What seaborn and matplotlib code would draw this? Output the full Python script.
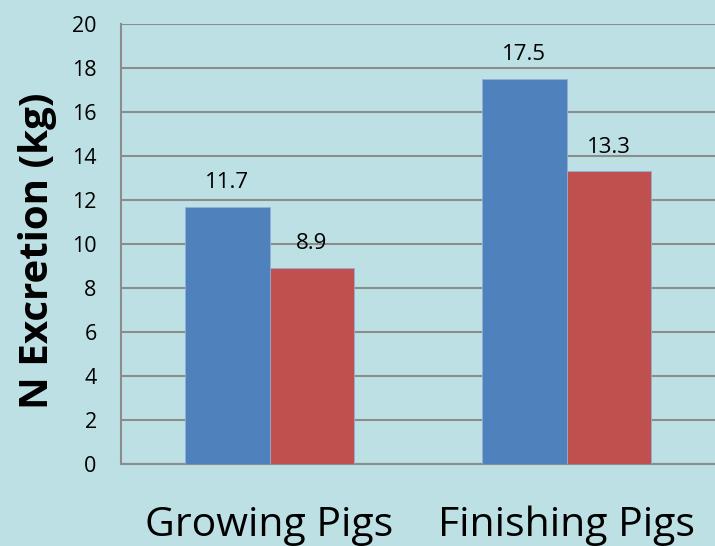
import matplotlib
matplotlib.use("Agg")
import matplotlib.pyplot as plt
import seaborn as sns
import pandas as pd

categories = ["Growing Pigs", "Finishing Pigs"]
series_names = ["Series A", "Series B"]
series_a = [11.7, 17.5]
series_b = [8.9, 13.3]
y_ticks = [0, 2, 4, 6, 8, 10, 12, 14, 16, 18, 20]

df = pd.DataFrame({
    "category": categories * 2,
    "series": [series_names[0]] * 2 + [series_names[1]] * 2,
    "value": series_a + series_b,
})

sns.set_theme(style="white")
plt.rcParams["font.family"] = ["Open Sans", "DejaVu Sans"]
plt.rcParams["text.color"] = "black"
plt.rcParams["axes.labelcolor"] = "black"
plt.rcParams["xtick.color"] = "black"
plt.rcParams["ytick.color"] = "black"

bg = "#bce0e3"
fig = plt.figure(figsize=(7.15, 5.46), dpi=100, facecolor=bg)
ax = fig.add_axes([121 / 715, 1 - 464 / 546, (715 - 121) / 715, (464 - 24) / 546])
ax.set_facecolor(bg)

sns.barplot(data=df, x="category", y="value", hue="series", order=categories,
            hue_order=series_names, palette=["#4f81bd", "#c0504d"],
            width=0.57, saturation=1, legend=False, ax=ax, zorder=3,
            edgecolor="#8fb0d8", linewidth=0.6)

for cont in ax.containers:
    ax.bar_label(cont, fmt="%.1f", padding=10, fontsize=16, color="black")

ax.set_ylim(0, 20)
ax.set_yticks(y_ticks)
ax.set_yticklabels([str(t) for t in y_ticks], fontsize=15.5)
ax.set_xlim(-0.5, 1.5)
ax.grid(axis="y", color="#8c8c8c", linewidth=1.5, zorder=0)
ax.set_axisbelow(True)
for s in ["top", "right"]:
    ax.spines[s].set_visible(False)
ax.spines["left"].set_color("#8c8c8c")
ax.spines["left"].set_linewidth(1.5)
ax.spines["bottom"].set_color("#8c8c8c")
ax.spines["bottom"].set_linewidth(1.5)
ax.tick_params(axis="y", length=6.5, width=1.5, color="#8c8c8c", labelcolor="black", pad=11)
ax.tick_params(axis="x", length=0, pad=30, labelsize=29.5, labelcolor="black")
ax.set_xlabel("")
ax.set_ylabel("N Excretion (kg)", fontsize=29, fontweight="bold", color="black")
ax.yaxis.set_label_coords(-64 / 594, 0.484)

fig.savefig("out.png", dpi=100, facecolor=bg)
